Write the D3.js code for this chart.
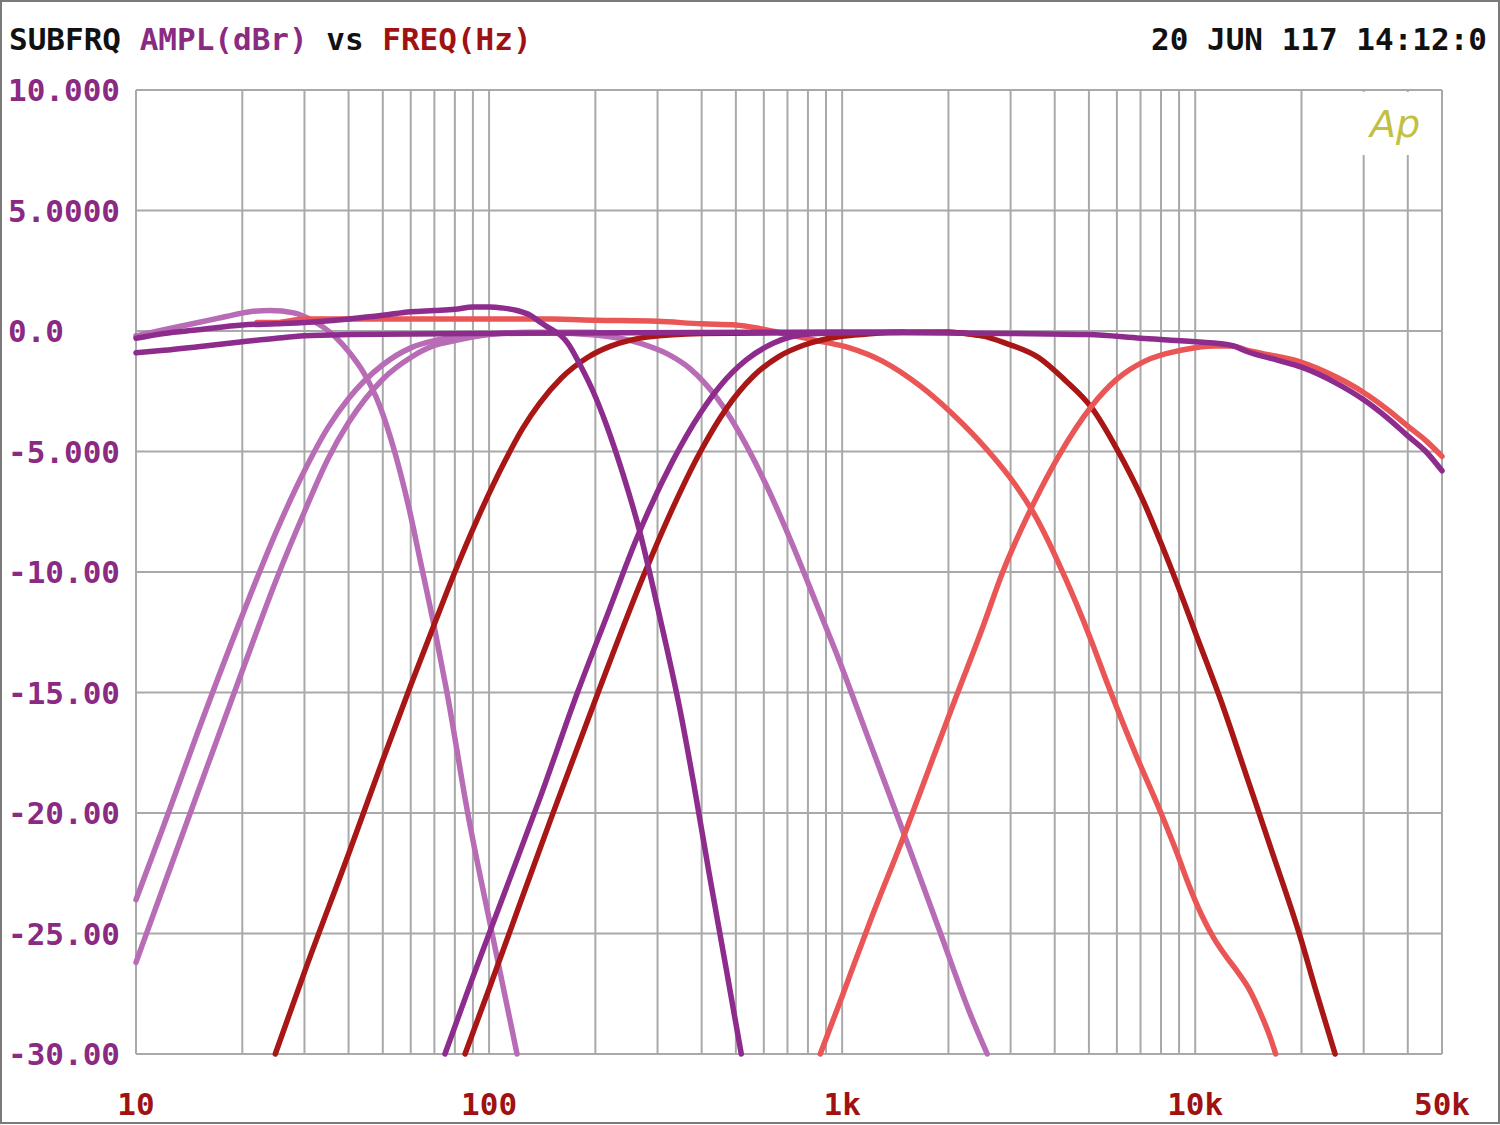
<!DOCTYPE html>
<html>
<head>
<meta charset="utf-8">
<script src="https://cdn.jsdelivr.net/npm/d3@7"></script>
<style>
  html, body { margin: 0; padding: 0; background: #ffffff; }
  svg { display: block; }
  text { font-family: "DejaVu Sans Mono", "Liberation Mono", monospace; font-weight: bold; }
</style>
</head>
<body>
<svg id="chart" width="1500" height="1125"></svg>
<script>
// ---------- DATA (frequency in Hz, amplitude in dBr) ----------
const xTickValues = [10, 100, 1000, 10000, 50000];
const xTickLabels = ["10", "100", "1k", "10k", "50k"];
const yTickValues = [10, 5, 0, -5, -10, -15, -20, -25, -30];
const yTickLabels = ["10.000", "5.0000", "0.0", "-5.000", "-10.00", "-15.00", "-20.00", "-25.00", "-30.00"];

// light orchid low-pass (peaked, ~50 Hz)
const orchidLowPass = [[10,-0.2],[12,0.05],[15,0.35],[18,0.6],[21,0.8],[24,0.85],[28,0.75],[31,0.5],[34,0.15],[37,-0.3],[40,-0.85],[44,-1.7],[49,-3.1],[54,-5.0],[59,-7.2],[64,-9.6],[70,-12.3],[76,-15.0],[87,-20.0],[102,-25.0],[120,-30.0]];
// light orchid band-pass 1 (HP ~39 Hz, LP ~450 Hz)
const orchidBand1 = [[10,-23.6],[12,-20.5],[15,-16.6],[20,-11.8],[25,-8.3],[30,-5.8],[35,-4.0],[40,-2.8],[50,-1.4],[60,-0.7],[70,-0.4],[80,-0.25],[100,-0.12],[150,-0.08],[200,-0.17],[267,-0.5],[320,-0.95],[370,-1.55],[443,-2.8],[515,-4.3],[610,-6.4],[725,-8.9],[850,-11.4],[965,-13.4],[1200,-17.1],[1500,-20.9],[1900,-25.0],[2300,-28.3],[2576,-30.0]];
// light orchid high-pass 2 (~45 Hz)
const orchidHighPass2 = [[10,-26.2],[12,-23.0],[15,-19.1],[20,-14.1],[25,-10.3],[30,-7.5],[35,-5.3],[40,-3.8],[50,-2.0],[60,-1.1],[70,-0.6],[80,-0.4],[100,-0.15],[130,-0.05],[200,-0.05]];
// dark purple full range
const purpleFull = [[10,-0.9],[12,-0.8],[15,-0.65],[20,-0.45],[25,-0.3],[30,-0.2],[40,-0.15],[100,-0.1],[1000,-0.05],[3000,-0.1],[5000,-0.15],[7000,-0.3],[10000,-0.45],[12700,-0.6],[14000,-0.85],[17000,-1.2],[20000,-1.5],[25000,-2.15],[30000,-2.85],[35000,-3.6],[40000,-4.35],[45000,-5.0],[50000,-5.8]];
// dark purple low-pass (peaked, ~170 Hz)
const purpleLowPass = [[10,-0.3],[12,-0.1],[15,0.05],[20,0.25],[25,0.3],[30,0.35],[40,0.5],[50,0.65],[60,0.8],[70,0.85],[80,0.9],[90,1.0],[100,1.0],[110,0.95],[120,0.85],[131,0.65],[140,0.35],[149,0.1],[160,-0.2],[167,-0.5],[181,-1.4],[197,-2.5],[215,-3.9],[239,-5.9],[268,-8.4],[291,-10.6],[317,-13.0],[345,-15.5],[380,-18.8],[420,-22.5],[470,-26.5],[518,-30.0]];
// dark purple high-pass (~400 Hz)
const purpleHighPass = [[75,-30.0],[90,-26.8],[110,-23.4],[140,-19.3],[178,-15.0],[216,-11.8],[262,-8.6],[331,-5.4],[397,-3.4],[450,-2.3],[535,-1.2],[640,-0.5],[712,-0.25],[850,-0.1],[1500,-0.05]];
// dark red band-pass 1 (HP ~139 Hz, LP ~5 kHz)
const redBand1 = [[24.8,-30.0],[30,-26.6],[40,-21.7],[50,-17.8],[60,-14.7],[69,-12.4],[80,-10.0],[94,-7.6],[110,-5.5],[125,-4.0],[139,-3.0],[160,-1.96],[190,-1.1],[220,-0.64],[250,-0.39],[280,-0.25],[400,-0.1],[1000,-0.05],[2000,-0.05],[2500,-0.2],[2900,-0.5],[3600,-1.1],[4250,-2.0],[5100,-3.2],[6000,-4.9],[7100,-7.0],[8000,-8.8],[9000,-10.7],[10000,-12.5],[12000,-15.6],[14000,-18.5],[16500,-21.6],[19800,-25.1],[22000,-27.4],[24900,-30.0]];
// dark red band-pass 2 (HP ~480 Hz, LP ~5 kHz)
const redBand2 = [[85.5,-30.0],[100,-27.3],[120,-24.1],[150,-20.2],[206,-14.8],[273,-10.2],[330,-7.4],[397,-5.0],[471,-3.2],[558,-1.9],[665,-1.04],[777,-0.59],[900,-0.33],[1000,-0.22],[1200,-0.11],[1500,-0.05],[2000,-0.05],[2500,-0.2]];
// salmon low-pass (~1.6 kHz)
const salmonLowPass = [[22,0.35],[25,0.35],[30,0.5],[50,0.5],[100,0.5],[150,0.5],[200,0.45],[300,0.4],[400,0.3],[500,0.25],[585,0.1],[680,-0.1],[850,-0.4],[1050,-0.7],[1300,-1.25],[1670,-2.3],[2040,-3.4],[2600,-5.0],[3100,-6.4],[3500,-7.6],[4300,-10.3],[5000,-12.6],[5700,-14.8],[6800,-17.6],[8000,-20.0],[8900,-21.7],[9600,-23.0],[10400,-24.2],[11300,-25.2],[12300,-26.0],[13200,-26.6],[14200,-27.3],[15300,-28.3],[16300,-29.3],[16900,-30.0]];
// salmon high-pass (~5 kHz)
const salmonHighPass = [[867,-30.0],[1000,-27.6],[1200,-24.5],[1500,-20.9],[1800,-17.8],[2100,-15.2],[2500,-12.3],[2850,-10.0],[3500,-7.1],[4100,-5.2],[5100,-3.1],[6000,-2.0],[7200,-1.25],[9100,-0.8],[11400,-0.62],[12700,-0.62],[14000,-0.8],[17000,-1.05],[20000,-1.3],[25000,-1.9],[30000,-2.55],[35000,-3.25],[40000,-3.95],[45000,-4.55],[50000,-5.2]];

const COLORS = {
  orchid: "#b76cb5",
  purple: "#8d2c8d",
  darkRed: "#a81616",
  salmon: "#ea5656",
  grid: "#a9a9a9",
  axisY: "#8a2a82",
  axisX: "#a01212",
  logo: "#c2c040"
};

const series = [
  { data: orchidHighPass2, color: COLORS.orchid },
  { data: orchidBand1, color: COLORS.orchid },
  { data: orchidLowPass, color: COLORS.orchid },
  { data: salmonLowPass, color: COLORS.salmon },
  { data: redBand2, color: COLORS.darkRed },
  { data: redBand1, color: COLORS.darkRed },
  { data: purpleHighPass, color: COLORS.purple },
  { data: purpleLowPass, color: COLORS.purple },
  { data: salmonHighPass, color: COLORS.salmon },
  { data: purpleFull, color: COLORS.purple }
];

// ---------- CHART ----------
const svg = d3.select("#chart");
const W = 1500, H = 1125;
const plot = { left: 136, right: 1442, top: 90, bottom: 1054 };

svg.append("rect").attr("x", 0).attr("y", 0).attr("width", W).attr("height", H).attr("fill", "#ffffff");
svg.append("rect").attr("x", 1).attr("y", 1).attr("width", W - 2).attr("height", H - 3)
  .attr("fill", "none").attr("stroke", "#7a7a7a").attr("stroke-width", 2);

const x = d3.scaleLog().domain([10, 50000]).range([plot.left, plot.right]);
const y = d3.scaleLinear().domain([-30, 10]).range([plot.bottom, plot.top]);

const grid = svg.append("g");
grid.selectAll("line.v").data(x.ticks()).join("line")
  .attr("class", "v")
  .attr("x1", d => x(d)).attr("x2", d => x(d))
  .attr("y1", plot.top).attr("y2", plot.bottom)
  .attr("stroke", COLORS.grid).attr("stroke-width", 2);
grid.selectAll("line.h").data(y.ticks(8)).join("line")
  .attr("class", "h")
  .attr("x1", plot.left).attr("x2", plot.right)
  .attr("y1", d => y(d)).attr("y2", d => y(d))
  .attr("stroke", COLORS.grid).attr("stroke-width", 2);
grid.append("line").attr("x1", x(50000)).attr("x2", x(50000)).attr("y1", plot.top).attr("y2", plot.bottom)
  .attr("stroke", COLORS.grid).attr("stroke-width", 2);

// logo area mask + logo
svg.append("rect").attr("x", 1318).attr("y", plot.top + 2).attr("width", plot.right - 1319).attr("height", 63).attr("fill", "#ffffff");
svg.append("text").attr("x", 1370).attr("y", 137)
  .style("font-family", "'DejaVu Sans', sans-serif").style("font-weight", "normal").style("font-style", "italic")
  .attr("font-size", 38).attr("fill", COLORS.logo).text("Ap");

// curves
const line = d3.line()
  .x(d => x(d[0]))
  .y(d => y(d[1]))
  .curve(d3.curveMonotoneX);

svg.append("g").selectAll("path").data(series).join("path")
  .attr("d", d => line(d.data))
  .attr("fill", "none")
  .attr("stroke", d => d.color)
  .attr("stroke-width", 5.5)
  .attr("stroke-linejoin", "round")
  .attr("stroke-linecap", "round");

// y axis labels
svg.append("g").selectAll("text").data(yTickValues).join("text")
  .attr("x", 8).attr("y", d => y(d) + 11)
  .attr("font-size", 31).attr("fill", COLORS.axisY)
  .text((d, i) => yTickLabels[i]);

// x axis labels
svg.append("g").selectAll("text").data(xTickValues).join("text")
  .attr("x", d => x(d)).attr("y", 1115)
  .attr("text-anchor", "middle")
  .attr("font-size", 31).attr("fill", COLORS.axisX)
  .text((d, i) => xTickLabels[i]);

// title
const title = svg.append("text").attr("x", 9).attr("y", 50).attr("font-size", 31);
title.append("tspan").attr("fill", "#111111").text("SUBFRQ ");
title.append("tspan").attr("fill", COLORS.axisY).text("AMPL(dBr)");
title.append("tspan").attr("fill", "#111111").text(" vs ");
title.append("tspan").attr("fill", COLORS.axisX).text("FREQ(Hz)");

svg.append("text").attr("x", 1487).attr("y", 50).attr("text-anchor", "end")
  .attr("font-size", 31).attr("fill", "#111111").text("20 JUN 117 14:12:0");
</script>
</body>
</html>
